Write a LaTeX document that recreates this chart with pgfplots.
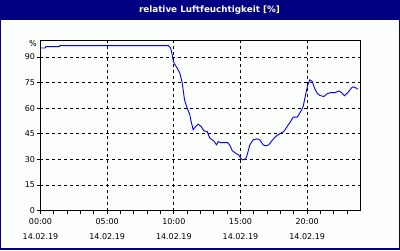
\documentclass[border=0pt]{standalone}
\usepackage{fontspec}
\setmainfont{DejaVu Sans}
\usepackage{pgfplots}
\pgfplotsset{compat=1.18}
\definecolor{navy}{RGB}{0,0,128}
\definecolor{bgw}{RGB}{251,254,251}
\begin{document}
\begin{tikzpicture}[x=1pt,y=1pt]
\useasboundingbox (0,0) rectangle (400,250);
\fill[navy] (0,0) rectangle (400,250);
\fill[bgw] (1.2,1.8) rectangle (398.5,230);
\node[text=white,font=\fontsize{8.8}{10}\selectfont\bfseries] at (209.5,240) {relative Luftfeuchtigkeit [\%]};
\node[anchor=east,font=\fontsize{8}{10}\selectfont,inner sep=0pt] at (37,206) {\%};
\begin{axis}[
  at={(40.5pt,39.3pt)}, anchor=south west,
  scale only axis, width=320pt, height=170.7pt,
  xmin=0, xmax=24, ymin=0, ymax=100,
  axis line style={black, line width=1pt},
  xtick={0,5,10,15,20},
  xticklabels={{00:00\\14.02.19},{05:00\\14.02.19},{10:00\\14.02.19},{15:00\\14.02.19},{20:00\\14.02.19}},
  minor xtick={1,2,3,4,6,7,8,9,11,12,13,14,16,17,18,19,21,22,23},
  ytick={0,15,30,45,60,75,90},
  tick align=outside,
  xtick pos=bottom, ytick pos=left,
  major tick length=3pt, minor tick length=3pt,
  tick style={black, line width=1pt},
  x tick label style={align=center, font=\fontsize{8}{15.4}\selectfont, yshift=-1pt},
  y tick label style={font=\fontsize{8}{10}\selectfont, xshift=1pt},
  /pgf/number format/assume math mode=true,
  xmajorgrids, ymajorgrids,
  major grid style={black, line width=1pt, dash pattern=on 3pt off 3pt},
]
\addplot[blue, line width=0.9pt] coordinates {
(0,95.3) (0.35,95.3) (0.4,96.1) (1.4,96.1) (1.45,96.7) (9.6,96.7)
(9.75,95.5) (9.85,92.4) (9.95,88) (10.05,86) (10.25,83.6) (10.45,80.6)
(10.63,74.8) (10.8,65) (11.0,60.1) (11.2,56.2) (11.3,52.2) (11.45,47.4)
(11.63,49.3) (11.83,50.7) (12.05,49.3) (12.25,46.8) (12.5,46.4) (12.7,42.5)
(13.0,40.9) (13.2,38.6) (13.33,40.5) (13.5,39.9) (14.05,39.9) (14.25,37.6)
(14.38,35.2) (14.7,33.3) (14.87,32.7) (15.0,30.8) (15.13,29.8) (15.38,30.2)
(15.5,32.7) (15.7,38.6) (15.95,41.5) (16.25,42.1) (16.45,41.5) (16.7,38.6)
(16.88,38) (17.12,38.6) (17.3,40.5) (17.63,43.4) (18.0,45.4) (18.25,46.4)
(18.5,49.3) (18.75,52.2) (18.95,54.8) (19.25,54.8) (19.45,57.2) (19.7,61)
(19.88,67.9) (20.05,73.8) (20.2,76.7) (20.38,75.7) (20.55,71.8) (20.75,68.9)
(20.95,67.5) (21.25,66.9) (21.5,68.5) (21.75,69.2) (22.13,69.2) (22.37,70.2)
(22.58,69.2) (22.8,67.3) (23.05,69.2) (23.38,72.4) (23.55,72.4) (23.8,71.2)
};
\end{axis}
\end{tikzpicture}
\end{document}
